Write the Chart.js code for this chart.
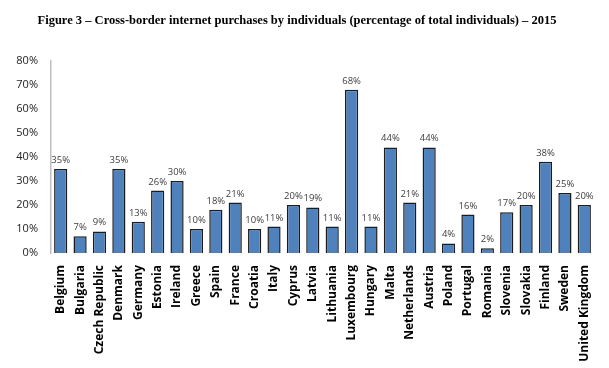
<!DOCTYPE html>
<html>
<head>
<meta charset="utf-8">
<script src="https://cdn.jsdelivr.net/npm/chart.js@4"></script>
<style>
  html, body { margin: 0; padding: 0; background: #fff; }
  #wrap { width: 609px; height: 368px; }
</style>
</head>
<body>
<div id="wrap"><canvas id="purchases" width="609" height="368"></canvas></div>
<script>
const titleText = 'Figure 3 \u2013 Cross-border internet purchases by individuals (percentage of total individuals) \u2013 2015';
const countries = ['Belgium', 'Bulgaria', 'Czech Republic', 'Denmark', 'Germany', 'Estonia', 'Ireland', 'Greece',
  'Spain', 'France', 'Croatia', 'Italy', 'Cyprus', 'Latvia', 'Lithuania', 'Luxembourg', 'Hungary', 'Malta',
  'Netherlands', 'Austria', 'Poland', 'Portugal', 'Romania', 'Slovenia', 'Slovakia', 'Finland', 'Sweden', 'United Kingdom'];
const shares = [35, 7, 9, 35, 13, 26, 30, 10, 18, 21, 10, 11, 20, 19, 11, 68, 11, 44, 21, 44, 4, 16, 2, 17, 20, 38, 25, 20];
const yTicks = [0, 10, 20, 30, 40, 50, 60, 70, 80];

// small labels above each bar
const barValues = {
  id: 'barValues',
  afterDatasetsDraw(chart) {
    const ctx = chart.ctx;
    const meta = chart.getDatasetMeta(0);
    ctx.save();
    ctx.font = '9.5px "Open Sans", sans-serif';
    ctx.fillStyle = '#404040';
    ctx.textAlign = 'center';
    ctx.textBaseline = 'bottom';
    meta.data.forEach((bar, i) => {
      ctx.fillText(shares[i] + '%', bar.x, bar.y - 4);
    });
    ctx.restore();
  }
};

const ctx = document.getElementById('purchases');
new Chart(ctx, {
  type: 'bar',
  data: {
    labels: countries,
    datasets: [{
      data: shares,
      backgroundColor: '#4f81bd',
      borderColor: '#1c1c1c',
      borderWidth: 1.5,
      barPercentage: 0.68,
      categoryPercentage: 1
    }]
  },
  options: {
    responsive: false,
    animation: false,
    layout: { padding: { left: 0, right: 15, top: 0, bottom: 0 } },
    plugins: {
      legend: { display: false },
      tooltip: { enabled: false },
      title: {
        display: true,
        text: titleText,
        color: '#000',
        font: { family: '"Liberation Serif", serif', size: 12.5, weight: 'bold' },
        padding: { top: 13, bottom: 33 }
      }
    },
    scales: {
      x: {
        grid: { display: false },
        border: { display: false },
        ticks: {
          color: '#000',
          font: { family: '"Open Sans", sans-serif', size: 12, weight: 'bold' },
          minRotation: 90,
          maxRotation: 90,
          autoSkip: false,
          padding: 4
        },
        afterFit(scale) { scale.height = 115; }
      },
      y: {
        min: 0,
        max: 80,
        afterBuildTicks(scale) { scale.ticks = yTicks.map(v => ({ value: v })); },
        grid: { display: false },
        border: { display: true, color: '#bfbfbf', width: 1.5 },
        ticks: {
          color: '#222',
          font: { family: '"Open Sans", sans-serif', size: 11 },
          padding: 5,
          callback: v => v + '%'
        },
        afterFit(scale) { scale.width = 51; }
      }
    }
  },
  plugins: [barValues]
});
</script>
</body>
</html>
